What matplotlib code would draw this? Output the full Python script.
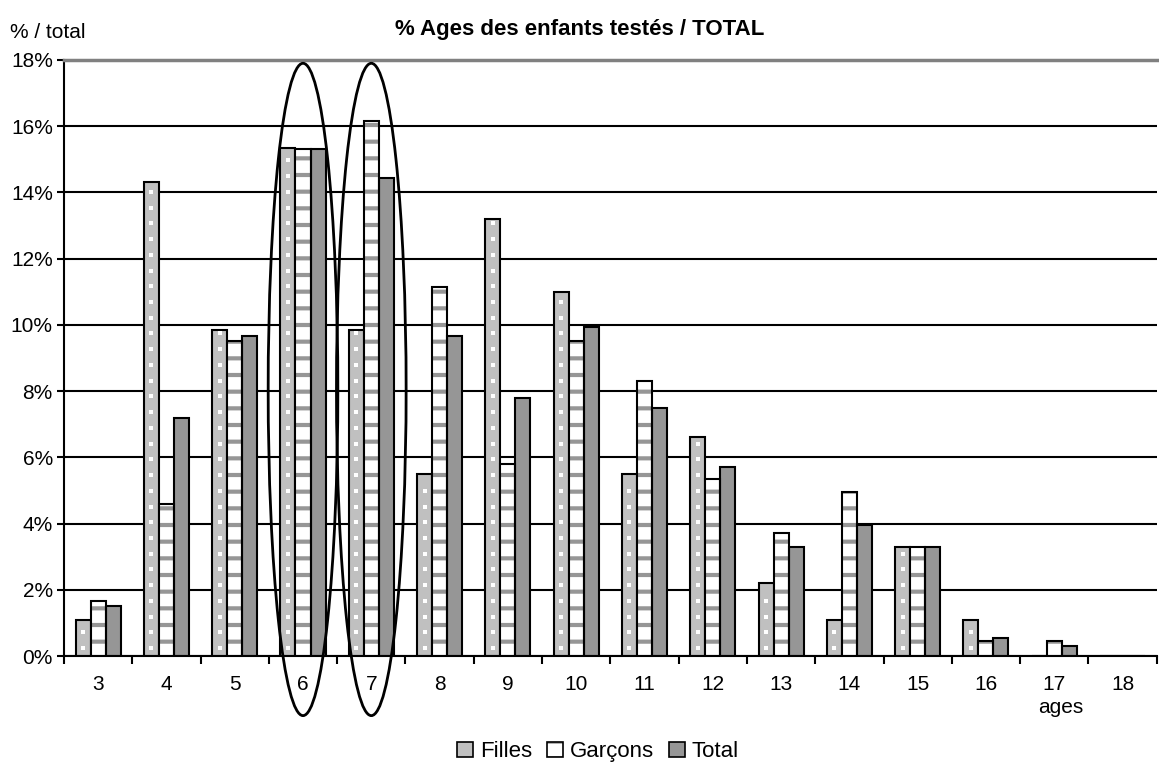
import numpy as np
import matplotlib
matplotlib.use("Agg")
import matplotlib.pyplot as plt
from matplotlib.patches import Ellipse, Patch
from matplotlib.legend_handler import HandlerTuple

plt.rcParams['font.family'] = ['Liberation Sans', 'DejaVu Sans']
plt.rcParams['hatch.linewidth'] = 3.0

ages = ['3', '4', '5', '6', '7', '8', '9', '10', '11', '12', '13', '14', '15', '16', '17', '18']
filles = [1.1, 14.3, 9.85, 15.35, 9.85, 5.5, 13.2, 11.0, 5.5, 6.6, 2.2, 1.1, 3.3, 1.1, 0.0, 0.0]
garcons = [1.65, 4.6, 9.5, 15.3, 16.15, 11.15, 5.8, 9.5, 8.3, 5.35, 3.7, 4.95, 3.3, 0.45, 0.45, 0.0]
total = [1.5, 7.2, 9.65, 15.3, 14.45, 9.65, 7.8, 9.95, 7.5, 5.7, 3.3, 3.95, 3.3, 0.55, 0.3, 0.0]
circled = ['6', '7']

x = np.arange(len(ages))
w = 0.22

fig = plt.figure(figsize=(11.59, 7.67), dpi=100)
ax = fig.add_axes([0.0552, 0.1447, 0.9428, 0.7771])

# Filles : gris clair avec points blancs
ax.bar(x - w, filles, w, color='#c0c0c0', edgecolor='black', linewidth=1.5, zorder=2)
for xi, h in zip(x - w, filles):
    if h > 0.3:
        ys = np.arange(0.24, h - 0.1, 0.475)
        ax.scatter(np.full(len(ys), xi), ys, marker='s', s=9, color='white',
                   linewidths=0, zorder=3)

# Garçons : blanc rayé gris
ax.bar(x, garcons, w, color='white', edgecolor='#969696', hatch='-', linewidth=0, zorder=2)
ax.bar(x, garcons, w, fill=False, edgecolor='black', linewidth=1.5, zorder=3)

# Total : gris foncé
ax.bar(x + w, total, w, color='#969696', edgecolor='black', linewidth=1.5, zorder=2)

# ellipses autour de 6 et 7 ans
for a in circled:
    i = ages.index(a)
    ax.add_patch(Ellipse((i, 8.05), 1.02, 19.7, fill=False, edgecolor='black',
                         linewidth=2, clip_on=False, zorder=5))

ax.set_xlim(-0.5, len(ages) - 0.5)
ax.set_ylim(0, 18)
ax.set_yticks(np.arange(0, 19, 2))
ax.set_yticklabels([f'{v}%' for v in range(0, 19, 2)])
ax.set_xticks(x)
ax.set_xticklabels(ages)
ax.set_xticks(np.arange(-0.5, len(ages), 1), minor=True)
ax.tick_params(axis='x', which='major', length=0, pad=14, labelsize=15)
ax.tick_params(axis='x', which='minor', length=6, width=1.5, direction='out')
ax.tick_params(axis='y', length=5, width=1.5, labelsize=15, pad=3)

ax.set_axisbelow(True)
ax.yaxis.grid(True, color='black', linewidth=1.5)
ax.spines['right'].set_visible(False)
ax.spines['top'].set_color('#808080')
ax.spines['top'].set_linewidth(2.5)
ax.spines['left'].set_linewidth(1.5)
ax.spines['bottom'].set_linewidth(1.5)

fig.text(0.5, 0.961, '% Ages des enfants testés / TOTAL', ha='center', va='center',
         fontsize=16, fontweight='bold')
fig.text(0.009, 0.957, '% / total', ha='left', va='center', fontsize=15)
fig.text(0.915, 0.078, 'ages', ha='center', va='center', fontsize=15)

h_f = Patch(facecolor='#c0c0c0', edgecolor='black', linewidth=1.2)
h_g = (Patch(facecolor='white', edgecolor='#969696', hatch='-', linewidth=0),
       Patch(fill=False, edgecolor='black', linewidth=1.2))
h_t = Patch(facecolor='#969696', edgecolor='black', linewidth=1.2)
fig.legend([h_f, h_g, h_t], ['Filles', 'Garçons', 'Total'], loc='center',
           bbox_to_anchor=(0.516, 0.02), ncol=3, frameon=False, fontsize=16,
           handlelength=0.7, handleheight=0.7, handletextpad=0.3, columnspacing=0.7,
           handler_map={tuple: HandlerTuple(ndivide=1)})

fig.savefig('out.png', dpi=100)
